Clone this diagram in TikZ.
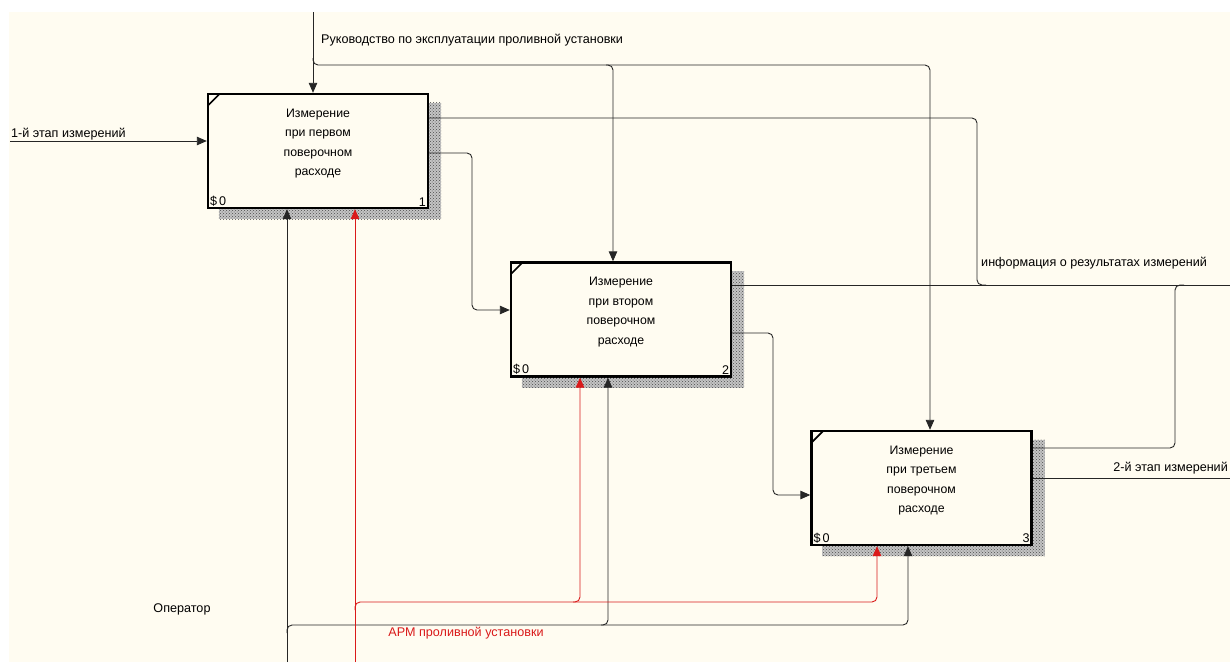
\documentclass[tikz,border=0pt]{standalone}
\usepackage{fontspec}
\setmainfont{Liberation Sans}
\usetikzlibrary{arrows.meta,positioning,calc,patterns}
\tikzset{
  idefline/.style={line width=0.9pt, draw=black!85, rounded corners=5pt},
  idefarrow/.style={idefline, -{Triangle[length=10pt,width=8.5pt]}},
  redarrow/.style={idefarrow, draw=IdefRed},
  arrowlabel/.style={inner sep=1pt, font=\fontsize{12.6}{14}\selectfont}
}
\definecolor{IdefBg}{HTML}{FFFCF1}
\definecolor{IdefRed}{HTML}{DA1A1A}
\definecolor{IdefShade}{HTML}{C4C4C4}

\begin{document}
\begin{tikzpicture}[x=1pt, y=-1pt,
  font=\fontsize{12.3}{19.4}\selectfont,
  box/.style={draw, line width=2.4pt, fill=IdefBg, minimum width=220pt, minimum height=114pt, inner sep=0pt},
  boxtitle/.style={align=center, inner sep=0pt},
  boxcorner/.style={inner sep=3pt, font=\fontsize{12.6}{12.6}\selectfont}
]
\useasboundingbox (0,0) rectangle (1230,662);
\fill[white] (0,0) rectangle (1230,662);
\fill[IdefBg] (9,12) rectangle (1230,662);

\node[box] at (318,151) (b1) {};
\node[box] at (621,319.5) (b2) {};
\node[box] at (921.5,488) (b3) {};

\node[boxtitle, below=16pt of b1.north] (t1) {Измерение\\при первом\\поверочном\\расходе};
\node[boxtitle, below=16pt of b2.north] (t2) {Измерение\\при втором\\поверочном\\расходе};
\node[boxtitle, below=16pt of b3.north] (t3) {Измерение\\при третьем\\поверочном\\расходе};

% shadows, corner ticks, box numbers
\foreach \b/\n in {b1/1,b2/2,b3/3}{
  \fill[IdefShade] ($(\b.north east)+(0,10)$) rectangle ($(\b.south east)+(12,10)$);
  \fill[IdefShade] ($(\b.south west)+(12,0)$) rectangle ($(\b.south east)+(0,10)$);
  \fill[pattern=crosshatch dots, pattern color=black!70] ($(\b.north east)+(0,10)$) rectangle ($(\b.south east)+(12,10)$);
  \fill[pattern=crosshatch dots, pattern color=black!70] ($(\b.south west)+(12,0)$) rectangle ($(\b.south east)+(0,10)$);
  \draw[line width=1.6pt] ($(\b.north west)+(1,13)$) -- ($(\b.north west)+(13,1)$);
  \node[boxcorner, anchor=south west] at (\b.south west) {\$\,0};
  \node[boxcorner, anchor=south east] at (\b.south east) {\n};
}

% controls
\coordinate (ctlsrc) at (313,12);
\coordinate (ctlsplit) at (313,65);
\coordinate (ctl2) at (613,65);
\coordinate (ctl3) at (930,65);
\draw[idefarrow] (ctlsrc) -- (b1.north -| ctlsrc);
\draw[idefarrow] ($(ctlsplit)+(0,-7)$) -- (ctlsplit) -- (ctl3) -- (b3.north -| ctl3);
\draw[idefarrow] ($(ctl2)+(-7,0)$) -- (ctl2) -- (b2.north -| ctl2);
\node[arrowlabel, anchor=west] at (320,40) {Руководство по эксплуатации проливной установки};

% input
\coordinate (inpsrc) at (10,141);
\draw[idefarrow] (inpsrc) -- (b1.west |- inpsrc);
\node[arrowlabel, anchor=base west] at (10,137) {1-й этап измерений};

% links between stages
\draw[idefarrow] (b1.east |- 0,153) -- (472,153) -- (472,310) -- (b2.west |- 0,310);
\draw[idefarrow] (b2.east |- 0,333) -- (773,333) -- (773,495) -- (b3.west |- 0,495);

% outputs
\coordinate (infoout) at (1230,285);
\coordinate (stage2) at (1230,478);
\draw[idefline] (b2.east |- infoout) -- (infoout);
\draw[idefline] (b1.east |- 0,118) -- (977,118) -- (977,285) -- (986,285);
\draw[idefline] (b3.east |- 0,448) -- (1175,448) -- (1175,285) -- (1184,285);
\draw[idefline] (b3.east |- stage2) -- (stage2);
\node[arrowlabel, anchor=west] at (980,263) {информация о результатах измерений};
\node[arrowlabel, anchor=east] at (1229,468) {2-й этап измерений};

% mechanisms
\coordinate (opsrc) at (287,662);
\coordinate (op2) at (608,625);
\coordinate (op3) at (908,625);
\draw[idefarrow] (opsrc) -- (b1.south -| opsrc);
\draw[idefarrow] (287,633) -- (287,625) -- (op3) -- (b3.south -| op3);
\draw[idefarrow] ($(op2)+(-7,0)$) -- (op2) -- (b2.south -| op2);
\node[arrowlabel] at (182,609) {Оператор};

\coordinate (armsrc) at (355,662);
\coordinate (arm2) at (580,602);
\coordinate (arm3) at (877,602);
\draw[redarrow] (armsrc) -- (b1.south -| armsrc);
\draw[redarrow] (355,610) -- (355,602) -- (arm3) -- (b3.south -| arm3);
\draw[redarrow] ($(arm2)+(-7,0)$) -- (arm2) -- (b2.south -| arm2);
\node[arrowlabel, text=IdefRed] at (466,633) {АРМ проливной установки};
\end{tikzpicture}
\end{document}
